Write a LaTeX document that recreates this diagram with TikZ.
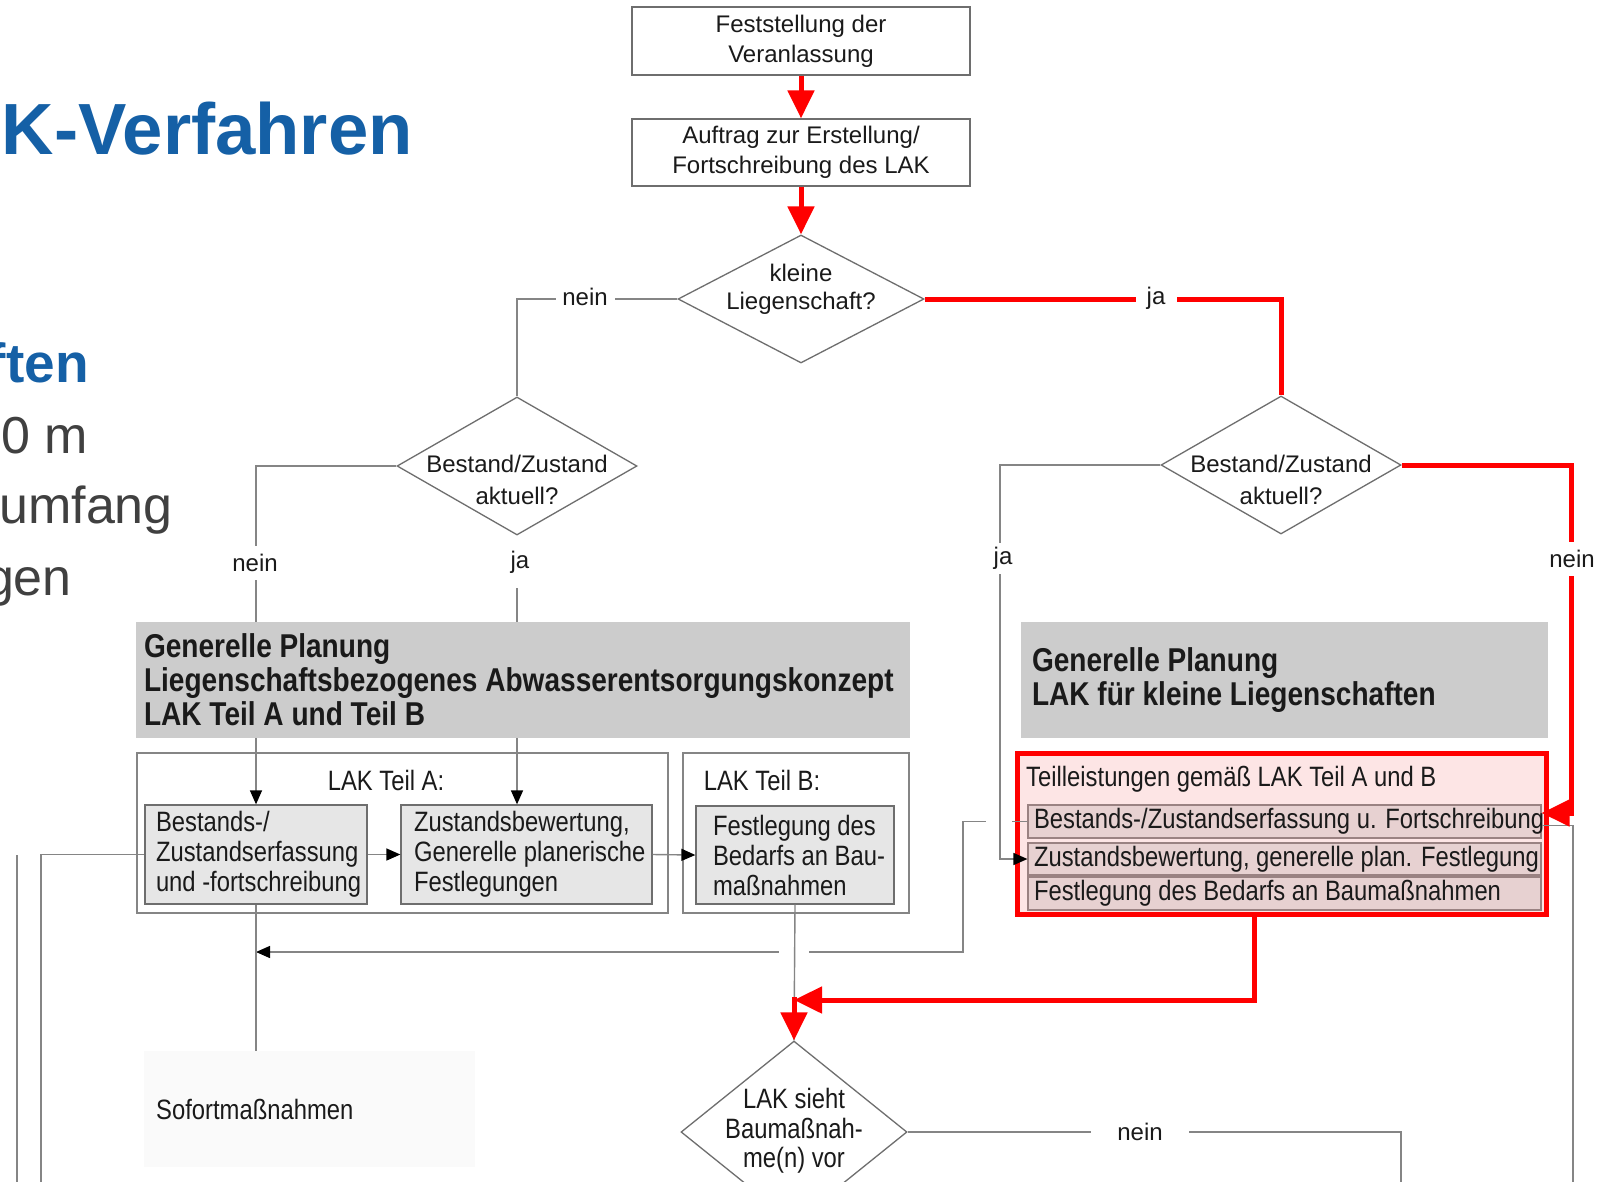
\documentclass[tikz,border=0pt]{standalone}
\usepackage{fontspec}
\setmainfont{Liberation Sans}
\newfontfamily\condfont[FakeStretch=0.85]{Liberation Sans}
\usetikzlibrary{shapes.geometric,arrows.meta,calc}
\definecolor{ttl}{HTML}{1560A6}
\definecolor{grtxt}{HTML}{404040}
\definecolor{ink}{HTML}{1A1A1A}
\definecolor{lineg}{HTML}{858585}
\definecolor{bord}{HTML}{6E6E6E}
\definecolor{boxf}{HTML}{E6E6E6}
\definecolor{gboxf}{HTML}{CCCCCC}
\definecolor{rred}{HTML}{FF0000}
\definecolor{rfill}{HTML}{FDE5E5}
\definecolor{rowf}{HTML}{E7D1D1}
\definecolor{rowb}{HTML}{9A8282}
\newcommand{\myfs}[2]{\fontsize{#1}{#2}\selectfont}
\begin{document}
\begin{tikzpicture}[x=1pt,y=-1pt,
  pbox/.style={draw=bord,line width=1.3pt,fill=white,inner sep=0pt,text=ink,font=\myfs{24}{30},align=center},
  dia/.style={diamond,draw=bord,line width=1.3pt,fill=white,inner sep=0pt},
  dtxt/.style={inner sep=0pt,text=ink,align=center},
  gbox/.style={fill=gboxf,inner ysep=0pt,text=ink,font=\condfont\bfseries\myfs{33}{34},align=flush left},
  cont/.style={draw=lineg,line width=1.5pt,inner sep=0pt},
  sbox/.style={draw=bord,line width=1.3pt,fill=boxf,inner ysep=0pt,text=ink,font=\condfont\myfs{28}{30},align=flush left},
  rbox/.style={draw=rred,line width=5pt,fill=rfill,inner sep=0pt},
  rrow/.style={draw=rowb,line width=1.2pt,fill=rowf,inner ysep=0pt,inner xsep=6pt,text width=501pt,minimum height=33pt,text=ink,font=\condfont\myfs{28}{30},align=flush left},
  ctxt/.style={inner sep=0pt,text=ink,font=\condfont\myfs{28}{30}},
  conn/.style={draw=lineg,line width=1.4pt},
  carr/.style={conn,-{Triangle[length=14pt,width=12pt,color=black]}},
  rline/.style={draw=rred,line width=5pt},
  rarr/.style={rline,-{Triangle[length=28pt,width=26pt]}},
  lbl/.style={fill=white,inner sep=0pt,text=ink,font=\myfs{24}{28}},
  ttlst/.style={inner sep=0pt,anchor=base east,text=ttl,font=\bfseries\myfs{#1}{#1}},
  bodyst/.style={inner sep=0pt,anchor=base east,text=grtxt,font=\myfs{52}{60}}
]
\useasboundingbox (0,0) rectangle (1613,1181);
\fill[white] (0,0) rectangle (1613,1181);

% slide text
\node[ttlst=72.5] (title) at (413,154) {K-Verfahren};
\node[ttlst=55] (subt) at (89,382) {ften};
\node[bodyst] (bt1) at (88,453) {0 m};
\node[bodyst] (bt2) at (173,523) {umfang};
\node[bodyst] (bt3) at (72,595) {gen};

% top boxes and decisions
\node[pbox,minimum width=338,minimum height=68] (t1) at (801,41) {Feststellung der\\Veranlassung};
\node[pbox,minimum width=338,minimum height=67] (t2) at (801,152.5) {Auftrag zur Erstellung/\\Fortschreibung des LAK};

\node[dia,minimum width=246,minimum height=128] (d1) at (801,299) {};
\node[dtxt,font=\myfs{24}{28}] (d1t) at (801,289) {kleine\\Liegenschaft?};

\node[dia,minimum width=240,minimum height=138] (dl) at (517,466) {};
\node[dtxt,font=\myfs{24}{32}] (dlt) at (517,480) {Bestand/Zustand\\aktuell?};
\node[dia,minimum width=240,minimum height=138] (dr) at (1281,465) {};
\node[dtxt,font=\myfs{24}{32}] (drt) at (1281,480) {Bestand/Zustand\\aktuell?};

% grey planning boxes
\node[gbox,minimum height=116,inner xsep=8pt,text width=758pt] (g1) at (523,680) {\mbox{Generelle Planung}\\\mbox{Liegenschaftsbezogenes Abwasserentsorgungskonzept}\\\mbox{LAK Teil A und Teil B}};
\node[gbox,minimum height=116,inner xsep=11pt,text width=505pt] (g2) at (1284.5,680) {\mbox{Generelle Planung}\\\mbox{LAK für kleine Liegenschaften}};

% containers Teil A / Teil B
\node[cont,minimum width=531,minimum height=160] (ca) at (402.5,833) {};
\node[cont,minimum width=226,minimum height=160] (cb) at (796,833) {};
\node[ctxt] (cat) at (386,780) {LAK Teil A:};
\node[ctxt] (cbt) at (762,780) {LAK Teil B:};

\node[sbox,minimum height=99,inner xsep=11pt,text width=200pt] (b1) at (256,854.5) {\mbox{Bestands-/}\\\mbox{Zustandserfassung}\\\mbox{und -fortschreibung}};
\node[sbox,minimum height=99,inner xsep=13pt,text width=225pt] (b2) at (526.5,854.5) {\mbox{Zustandsbewertung,}\\\mbox{Generelle planerische}\\\mbox{Festlegungen}};
\node[sbox,minimum height=98,inner xsep=17pt,text width=164pt] (b3) at (795,855) {\mbox{Festlegung des}\\\mbox{Bedarfs an Bau-}\\\mbox{maßnahmen}};

% red box
\node[rbox,minimum width=529,minimum height=161] (rb) at (1281.5,833.5) {};
\node[ctxt,anchor=west] (rbt) at (1026,779) {Teilleistungen gemäß LAK Teil A und B};
\node[rrow] (r1) at (1284.5,821.5) {\mbox{Bestands-/Zustandserfassung u. Fortschreibung}};
\node[rrow,minimum height=32] (r2) at (1284.5,859) {\mbox{Zustandsbewertung, generelle plan. Festlegung}};
\node[rrow] (r3) at (1284.5,893.5) {\mbox{Festlegung des Bedarfs an Baumaßnahmen}};

% bottom decision
\node[dia,minimum width=226,minimum height=182] (d3) at (794,1132) {};
\node[dtxt,font=\condfont\myfs{28}{29.5}] (d3t) at (794,1131) {LAK sieht\\Baumaßnah-\\me(n) vor};

\node[fill=black!2,inner ysep=0pt,inner xsep=12pt,text width=307pt,minimum height=116,anchor=north west,align=flush left,text=ink,font=\condfont\myfs{28}{30}] (sof) at (144,1051) {Sofortmaßnahmen};

% helper coordinates
\coordinate (jx) at (1000,859);
\coordinate (kc) at (963,952);
\coordinate (rn) at (1571,813);
\coordinate (rk) at (1254,1000);
\coordinate (lb) at (41,1195);
\coordinate (o1) at (17,855);
\coordinate (o2) at (17,1195);
\coordinate (grb) at (1573,1195);
\coordinate (nb) at (1401,1195);

% grey connectors
\draw[carr] (r1.west) -| (kc) -- (kc -| b1.south);
\fill[white] (779,947) rectangle (809,957);
\fill[white] (986,817) rectangle (1012,827);
\draw[conn] (b3.south) -- (d3.north);
\draw[conn] (b1.south) -- (b1.south |- sof.north);
\draw[carr] (dr.west) -| (jx) -- (r2.west);
\draw[conn] (d1.west) -| (dl.north);
\draw[conn] (dl.west) -| (b1.north |- g1.north);
\draw[carr] (b1.north |- g1.south) -- (b1.north);
\draw[conn] (dl.south) -- (dl.south |- g1.north);
\draw[carr] (dl.south |- g1.south) -- (dl.south |- b2.north);
\draw[carr] (b1.east) -- (b2.west);
\draw[carr] (b2.east) -- (b3.west);
\draw[conn] (b1.west) -| (lb);
\draw[conn] (o1) -- (o2);
\draw[conn] ([yshift=-4pt]r1.east) -| (grb);
\draw[conn] (d3.east) -| (nb);

% red connectors
\draw[rarr] (t1.south) -- (t2.north);
\draw[rarr] (t2.south) -- (d1.north);
\draw[rline] (d1.east) -| (dr.north);
\draw[rarr] (dr.east) -| (rn) -- (rn -| r1.east);
\draw[rarr] (rk |- rb.south) -- (rk) -- (rk -| d3.north);
\draw[rarr] ($(rk -| d3.north)+(0,-3)$) -- (d3.north);

% labels
\node[lbl,minimum width=59,minimum height=28] (l1) at (585,297) {nein};
\node[lbl,minimum width=41,minimum height=28] (l2) at (1156,298) {ja};
\node[lbl,minimum width=50,minimum height=34] (l3) at (255,563) {nein};
\node[lbl,minimum width=30,minimum height=52] (l4) at (520,562) {ja};
\node[lbl,minimum width=30,minimum height=31] (l5) at (1003,558) {ja};
\node[lbl,minimum width=50,minimum height=34] (l6) at (1572,559) {nein};
\node[lbl,minimum width=98,minimum height=28] (l7) at (1140,1132) {nein};
\end{tikzpicture}
\end{document}
